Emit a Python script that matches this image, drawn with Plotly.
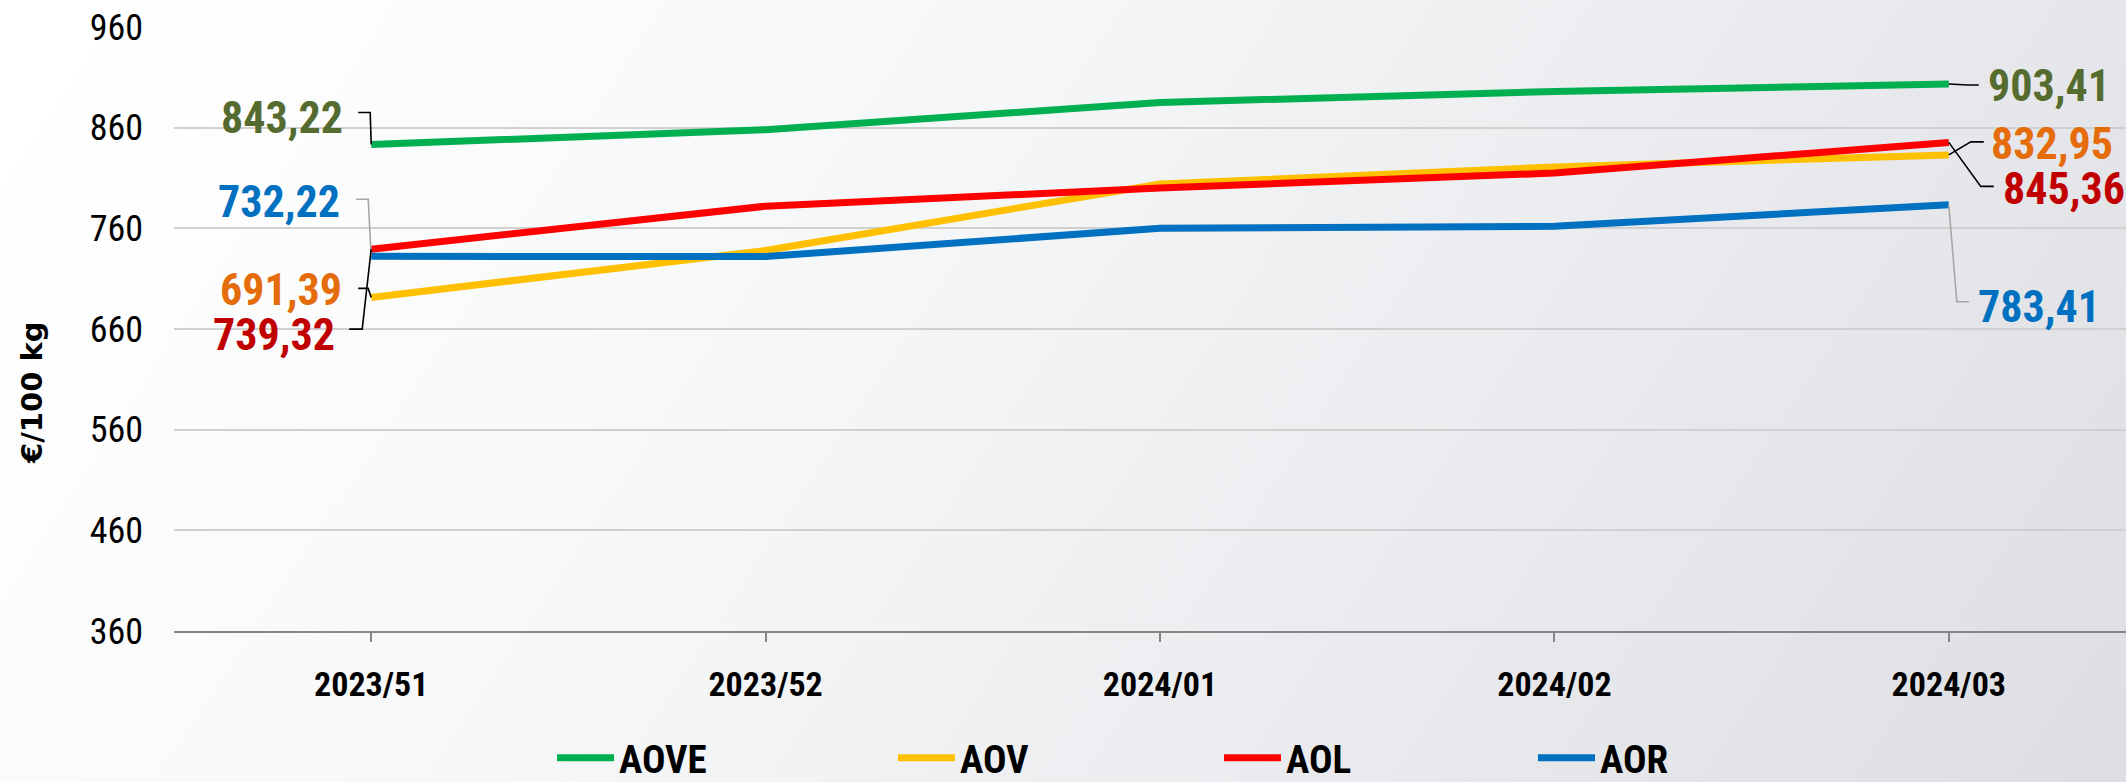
import base64
import plotly.graph_objects as go

# ---------------- data ----------------
weeks = ["2023/51", "2023/52", "2024/01", "2024/02", "2024/03"]
aove = [843.22, 858, 885, 896, 903.41]
aov = [691.39, 738, 804, 821, 832.95]
aol = [739.32, 782, 800, 815, 845.36]
aor = [732.22, 732, 760, 762, 783.41]
series_names = ["AOVE", "AOV", "AOL", "AOR"]
y_ticks = [360, 460, 560, 660, 760, 860, 960]
y_title = "€/100 kg"

# ---------------- styles ----------------
line_colors = ["#00B050", "#FFC000", "#FF0000", "#0070C0"]
label_colors = ["#556B2F", "#E46C0A", "#C00000", "#0070C0"]
NARROW = "Liberation Sans Narrow, Arial Narrow, Roboto Condensed, DejaVu Sans Condensed, sans-serif"

W, H = 2126, 782
L, R, T, B = 174, 0, 27, 151
PW, PH = W - L - R, H - T - B

all_series = [aove, aov, aol, aor]

fig = go.Figure()
legend_ids = ["legend", "legend2", "legend3", "legend4"]
for name, vals, col, lg in zip(series_names, all_series, line_colors, legend_ids):
    fig.add_trace(go.Scatter(
        x=weeks, y=vals, name=name, mode="lines",
        line=dict(color=col, width=7),
        legend=lg, showlegend=True, hoverinfo="skip",
    ))

# label placement: (series index, point index, side, text dx, text dy(up), leader path pts (up positive), leader colour)
label_specs = [
    (0, 0, "right", -26, 27, [(0, 0), (-1, 32), (-13, 32)], "#000000"),
    (3, 0, "right", -29, 54, [(0, 0), (-3, 57), (-15, 57)], "#A6A6A6"),
    (1, 0, "right", -27, 7, [(0, 0), (-3, 9), (-13, 9)], "#000000"),
    (2, 0, "right", -34, -86, [(0, 0), (-9, -80), (-22, -80)], "#000000"),
    (0, 4, "left", 37, -2, [(0, 0), (19, -1), (30, -1)], "#000000"),
    (1, 4, "left", 40, 11, [(0, 0), (22, 13), (35, 13)], "#000000"),
    (2, 4, "left", 52, -47, [(0, 0), (32, -44), (45, -44)], "#000000"),
    (3, 4, "left", 27, -102, [(0, 0), (8, -97), (20, -97)], "#A6A6A6"),
]

annotations = []
shapes = []
for si, pi, side, dx, dy, pts, lc in label_specs:
    v = all_series[si][pi]
    txt = f"{v:.2f}".replace(".", ",")
    annotations.append(dict(
        x=weeks[pi], y=v, xref="x", yref="y", text=txt, showarrow=False,
        xanchor=side, yanchor="middle", xshift=dx, yshift=dy,
        font=dict(family=NARROW, size=44, color=label_colors[si], weight="bold"),
    ))
    path = "M" + " L".join(f"{px},{py}" for px, py in pts)
    shapes.append(dict(
        type="path", xref="x", yref="y", xsizemode="pixel", ysizemode="pixel",
        xanchor=pi, yanchor=v, path=path,
        line=dict(color=lc, width=1.6), layer="above",
    ))

# y-axis title
annotations.append(dict(
    x=-(L - 32) / PW, y=(H - B - 393) / PH, xref="paper", yref="paper",
    text=y_title, showarrow=False, textangle=-90,
    xanchor="center", yanchor="middle",
    font=dict(family="DejaVu Sans", size=29, color="#000000", weight="bold"),
))

# background gradient
svg = (
    f'<svg xmlns="http://www.w3.org/2000/svg" width="{W}" height="{H}" viewBox="0 0 {W} {H}" preserveAspectRatio="none">'
    '<defs><linearGradient id="g" gradientUnits="userSpaceOnUse" x1="300" y1="-300" x2="2126" y2="900">'
    '<stop offset="0" stop-color="#FFFFFF"/><stop offset="0.35" stop-color="#F6F7F8"/>'
    '<stop offset="1" stop-color="#DCDDE2"/></linearGradient></defs>'
    f'<rect width="{W}" height="{H}" fill="url(#g)"/></svg>'
)
src = "data:image/svg+xml;base64," + base64.b64encode(svg.encode()).decode()

legend_x_px = [566, 907, 1233, 1547]
legend_layouts = {}
for lg, px in zip(legend_ids, legend_x_px):
    legend_layouts[lg] = dict(
        x=(px - 14 - L) / PW, xanchor="left", xref="paper",
        y=-(758 - (H - B)) / PH, yanchor="middle", yref="paper",
        orientation="h", bgcolor="rgba(0,0,0,0)", borderwidth=0,
        font=dict(family=NARROW, size=39, color="#000000", weight="bold"),
        itemwidth=57,
    )

fig.update_layout(
    width=W, height=H,
    margin=dict(l=L, r=R, t=T, b=B, pad=0, autoexpand=False),
    paper_bgcolor="#FFFFFF", plot_bgcolor="rgba(0,0,0,0)",
    showlegend=True,
    annotations=annotations, shapes=shapes,
    images=[dict(source=src, xref="paper", yref="paper",
                 x=-L / PW, y=1 + T / PH, sizex=W / PW, sizey=H / PH,
                 xanchor="left", yanchor="top", sizing="stretch", layer="below")],
    xaxis=dict(
        type="category", range=[-0.5, -0.5 + PW / 394.4],
        showgrid=False, zeroline=False, automargin=False,
        showline=True, linecolor="#868686", linewidth=2,
        ticks="outside", ticklen=9, tickwidth=1.5, tickcolor="#868686",
        tickfont=dict(family=NARROW, size=34, color="#000000", weight="bold"),
        ticklabelstandoff=13,
    ),
    yaxis=dict(
        range=[360, 960], tickvals=y_ticks, ticktext=[str(t) for t in y_ticks],
        showgrid=True, gridcolor="#D0D0D0", gridwidth=1.5, automargin=False,
        zeroline=False, showline=False, ticks="",
        tickfont=dict(family=NARROW, size=36, color="#000000"),
        ticklabelstandoff=30,
    ),
    **legend_layouts,
)

fig.write_html(
    "out.html",
    config={"displayModeBar": False},
    post_script="document.body.style.margin='0';document.body.style.overflow='hidden';",
)
